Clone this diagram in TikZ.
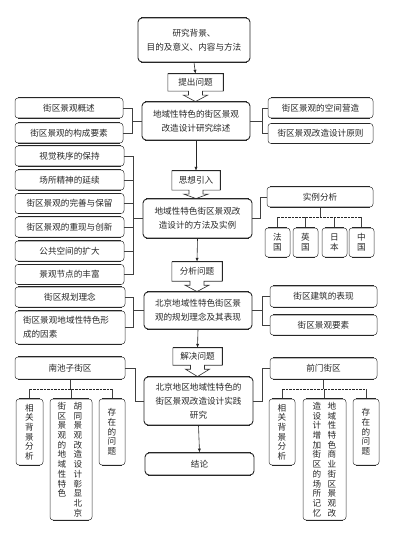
\documentclass[tikz,border=0pt]{standalone}
\usepackage{fontspec}
\setmainfont{Noto Sans CJK SC}
\usetikzlibrary{arrows.meta,calc}
\newcommand\mycallout[2]{%
  \draw[lbl] (#1.south east) -- (#1.north east) -- (#1.north west) -- (#1.south west)
    -- ($(#1.south)+(-7,0)$) -- ++(0,4) -- ++(-5,0) -- (#1.south |- #2.north)
    -- ($(#1.south)+(12,4)$) -- ++(-5,0) -- ++(0,-4) -- cycle;
  \draw[line width=1.3pt, black!85] (#1.north west) -- (#1.north east) -- (#1.south east);
}
\begin{document}
\begin{tikzpicture}[x=1pt,y=-1pt,
  every node/.style={font=\fontsize{8.6}{14}\selectfont, text=black!85, inner sep=0pt},
  sbox/.style={draw=black!80, line width=0.5pt, rounded corners=3pt, align=center},
  mbox/.style={draw=black!85, line width=0.9pt, rounded corners=4pt, align=center},
  lbl/.style={draw=black!80, line width=0.6pt},
  conn/.style={draw=black!75, line width=0.5pt},
  arr/.style={draw=black!85, line width=0.6pt, -{Latex[length=4pt,width=3.2pt]}},
  bus/.style={draw=black!85, line width=1.3pt, dash pattern=on 2.5pt off 1pt},
  vt/.style={font=\fontsize{8.6}{9.7}\selectfont, align=center},
  thk/.style={line width=1.4pt, black!85}
]
\useasboundingbox (0,0) rectangle (401,534);

% ---- top
\node[mbox, minimum width=112pt, minimum height=44pt] (top) at (194,40) {研究背景、\\目的及意义、内容与方法};
\node[minimum width=55pt, minimum height=17pt] (q1) at (195.5,82.5) {提出问题};
\node[mbox, minimum width=108pt, minimum height=38pt] (m1) at (196,121) {地域性特色的街区景观\\改造设计研究综述};
\node[sbox, minimum width=108pt, minimum height=20pt] (l1a) at (69,108) {街区景观概述};
\node[sbox, minimum width=108pt, minimum height=20pt] (l1b) at (69,133) {街区景观的构成要素};
\node[sbox, minimum width=105pt, minimum height=20pt] (r1a) at (320.5,108) {街区景观的空间营造};
\node[sbox, minimum width=105pt, minimum height=20pt] (r1b) at (320.5,133.5) {街区景观改造设计原则};

\draw[arr] (top.south) -- (q1.north);
\mycallout{q1}{m1}
\draw[conn] (l1a.east) -- ++(9,0) |- (l1b.east);
\draw[conn] (m1.west) -- ++(-10,0);
\draw[conn] (r1a.west) -- ++(-6,0) |- (r1b.west);
\draw[conn] (m1.east) -- ++(12,0);

% ---- second
\node[minimum width=48pt, minimum height=19pt] (q2) at (196,180.5) {思想引入};
\node[mbox, minimum width=109pt, minimum height=39pt] (m2) at (197.5,218.5) {地域性特色街区景观改\\造设计的方法及实例};
\node[sbox, minimum width=109pt, minimum height=20pt] (l2a) at (69.5,156) {视觉秩序的保持};
\node[sbox, minimum width=109pt, minimum height=20pt] (l2b) at (69.5,180) {场所精神的延续};
\node[sbox, minimum width=109pt, minimum height=20pt] (l2c) at (69.5,203.5) {街区景观的完善与保留};
\node[sbox, minimum width=109pt, minimum height=20pt] (l2d) at (69.5,227) {街区景观的重现与创新};
\node[sbox, minimum width=109pt, minimum height=20pt] (l2e) at (69.5,251) {公共空间的扩大};
\node[sbox, minimum width=109pt, minimum height=20pt] (l2f) at (69.5,274.5) {景观节点的丰富};
\node[sbox, minimum width=106pt, minimum height=20pt] (ex) at (320,197) {实例分析};
\node[sbox, minimum width=25pt, minimum height=29pt] (f1) at (277.5,242.5) {};
\node[sbox, minimum width=25pt, minimum height=29pt] (f2) at (305.5,242.5) {};
\node[sbox, minimum width=25pt, minimum height=29pt] (f3) at (334.5,242.5) {};
\node[sbox, minimum width=25pt, minimum height=29pt] (f4) at (361.5,242.5) {};
\node[vt] at (f1) {法\\国};
\node[vt] at (f2) {英\\国};
\node[vt] at (f3) {日\\本};
\node[vt] at (f4) {中\\国};

\draw[arr] (m1.south) -- (q2.north);
\mycallout{q2}{m2}
\draw[conn] (l2a.east) -- ++(9,0) |- (l2f.east);
\foreach \n in {l2b,l2c,l2d,l2e} \draw[conn] (\n.east) -- ++(9,0);
\draw[conn] (m2.west) -- ++(-10,0);
\draw[conn] (m2.east) -- ++(8,0) |- (ex.west);
\draw[conn] (ex.south) -- ++(0,10) coordinate (b2);
\foreach \n in {f1,f2,f3,f4} \draw[conn] (\n.north) -- (\n.north |- b2);
\draw[bus] (f1.north |- b2) -- (f4.north |- b2);

% ---- third
\node[minimum width=50pt, minimum height=19pt] (q3) at (197,271.5) {分析问题};
\node[mbox, minimum width=108pt, minimum height=37pt] (m3) at (198,310.5) {北京地域性特色街区景\\观的规划理念及其表现};
\node[sbox, minimum width=110pt, minimum height=20pt] (l3a) at (70,297) {街区规划理念};
\node[sbox, minimum width=110pt, minimum height=33pt, text width=94pt, align=left] (l3b) at (70,327.5) {街区景观地域性特色形\\成的因素};
\node[sbox, minimum width=107pt, minimum height=21pt] (r3a) at (323.5,296.5) {街区建筑的表现};
\node[sbox, minimum width=107pt, minimum height=20pt] (r3b) at (323.5,325) {街区景观要素};

\draw[arr] (m2.south) -- (q3.north);
\mycallout{q3}{m3}
\draw[conn] (l3a.east) -- ++(8,0) |- (l3b.east);
\draw[conn] (m3.west) -- ++(-11,0);
\draw[conn] (r3a.west) -- ++(-8,0) |- (r3b.west);
\draw[conn] (m3.east) -- ++(10,0);

% ---- fourth
\node[minimum width=49pt, minimum height=17pt] (q4) at (197.5,356.5) {解决问题};
\node[mbox, minimum width=109pt, minimum height=48pt] (m4) at (198.5,401) {北京地区地域性特色的\\街区景观改造设计实践\\研究};
\node[sbox, minimum width=110pt, minimum height=22pt] (na) at (70,368) {南池子街区};
\node[sbox, minimum width=107pt, minimum height=21pt] (qa) at (323.5,368.5) {前门街区};
\node[mbox, minimum width=109pt, minimum height=22pt] (end) at (199.5,464) {结论};

\draw[arr] (m3.south) -- (q4.north);
\mycallout{q4}{m4}
\draw[arr] (m4.south) -- (end.north);
\draw[conn] (na.east) -- ++(10,0) |- (m4.west);
\draw[conn] (qa.west) -- ++(-8,0) |- (m4.east);

% Nanchizi children
\node[sbox, minimum width=27pt, minimum height=66pt] (n1) at (29.5,432) {};
\node[sbox, minimum width=42pt, minimum height=121pt] (n2) at (71,459.5) {};
\node[sbox, minimum width=26pt, minimum height=66pt] (n3) at (112,432) {};
\node[vt] at (n1) {相\\关\\背\\景\\分\\析};
\node[vt, anchor=north] at (78,402) {胡\\同\\景\\观\\改\\造\\设\\计\\彰\\显\\北\\京};
\node[vt, anchor=north] at (62,402) {街\\区\\景\\观\\的\\地\\域\\性\\特\\色};
\node[vt] at (n3) {存\\在\\的\\问\\题};
\draw[conn] (na.south) -- ++(0,10) coordinate (b4);
\foreach \n in {n1,n2,n3} \draw[conn] (\n.north) -- (\n.north |- b4);
\draw[bus] (n1.north |- b4) -- (n3.north |- b4);

% Qianmen children
\node[sbox, minimum width=26pt, minimum height=66pt] (p1) at (282,432) {};
\node[sbox, minimum width=43pt, minimum height=121pt] (p2) at (324.5,459.5) {};
\node[sbox, minimum width=26pt, minimum height=66pt] (p3) at (366,432) {};
\node[vt] at (p1) {相\\关\\背\\景\\分\\析};
\node[vt, anchor=north] at (332,402) {地\\域\\性\\特\\色\\商\\业\\街\\区\\景\\观\\改};
\node[vt, anchor=north] at (317,402) {造\\设\\计\\增\\加\\街\\区\\的\\场\\所\\记\\忆};
\node[vt] at (p3) {存\\在\\的\\问\\题};
\draw[conn] (qa.south) -- ++(0,10) coordinate (b5);
\foreach \n in {p1,p2,p3} \draw[conn] (\n.north) -- (\n.north |- b5);
\draw[bus] (p1.north |- b5) -- (p3.north |- b5);

% thick top / bottom edges
\foreach \n in {top,m1,m2,m3,m4,end,l1a,l1b,r1a,r1b,l2a,l2b,l2c,l2d,l2e,l2f,ex,f1,f2,f3,f4,
  l3a,l3b,r3a,r3b,na,qa,n1,n2,n3,p1,p2,p3} {
  \draw[thk] ([xshift=3pt]\n.north west) -- ([xshift=-3pt]\n.north east);
  \draw[thk] ([xshift=3pt]\n.south west) -- ([xshift=-3pt]\n.south east);
}
\end{tikzpicture}
\end{document}
